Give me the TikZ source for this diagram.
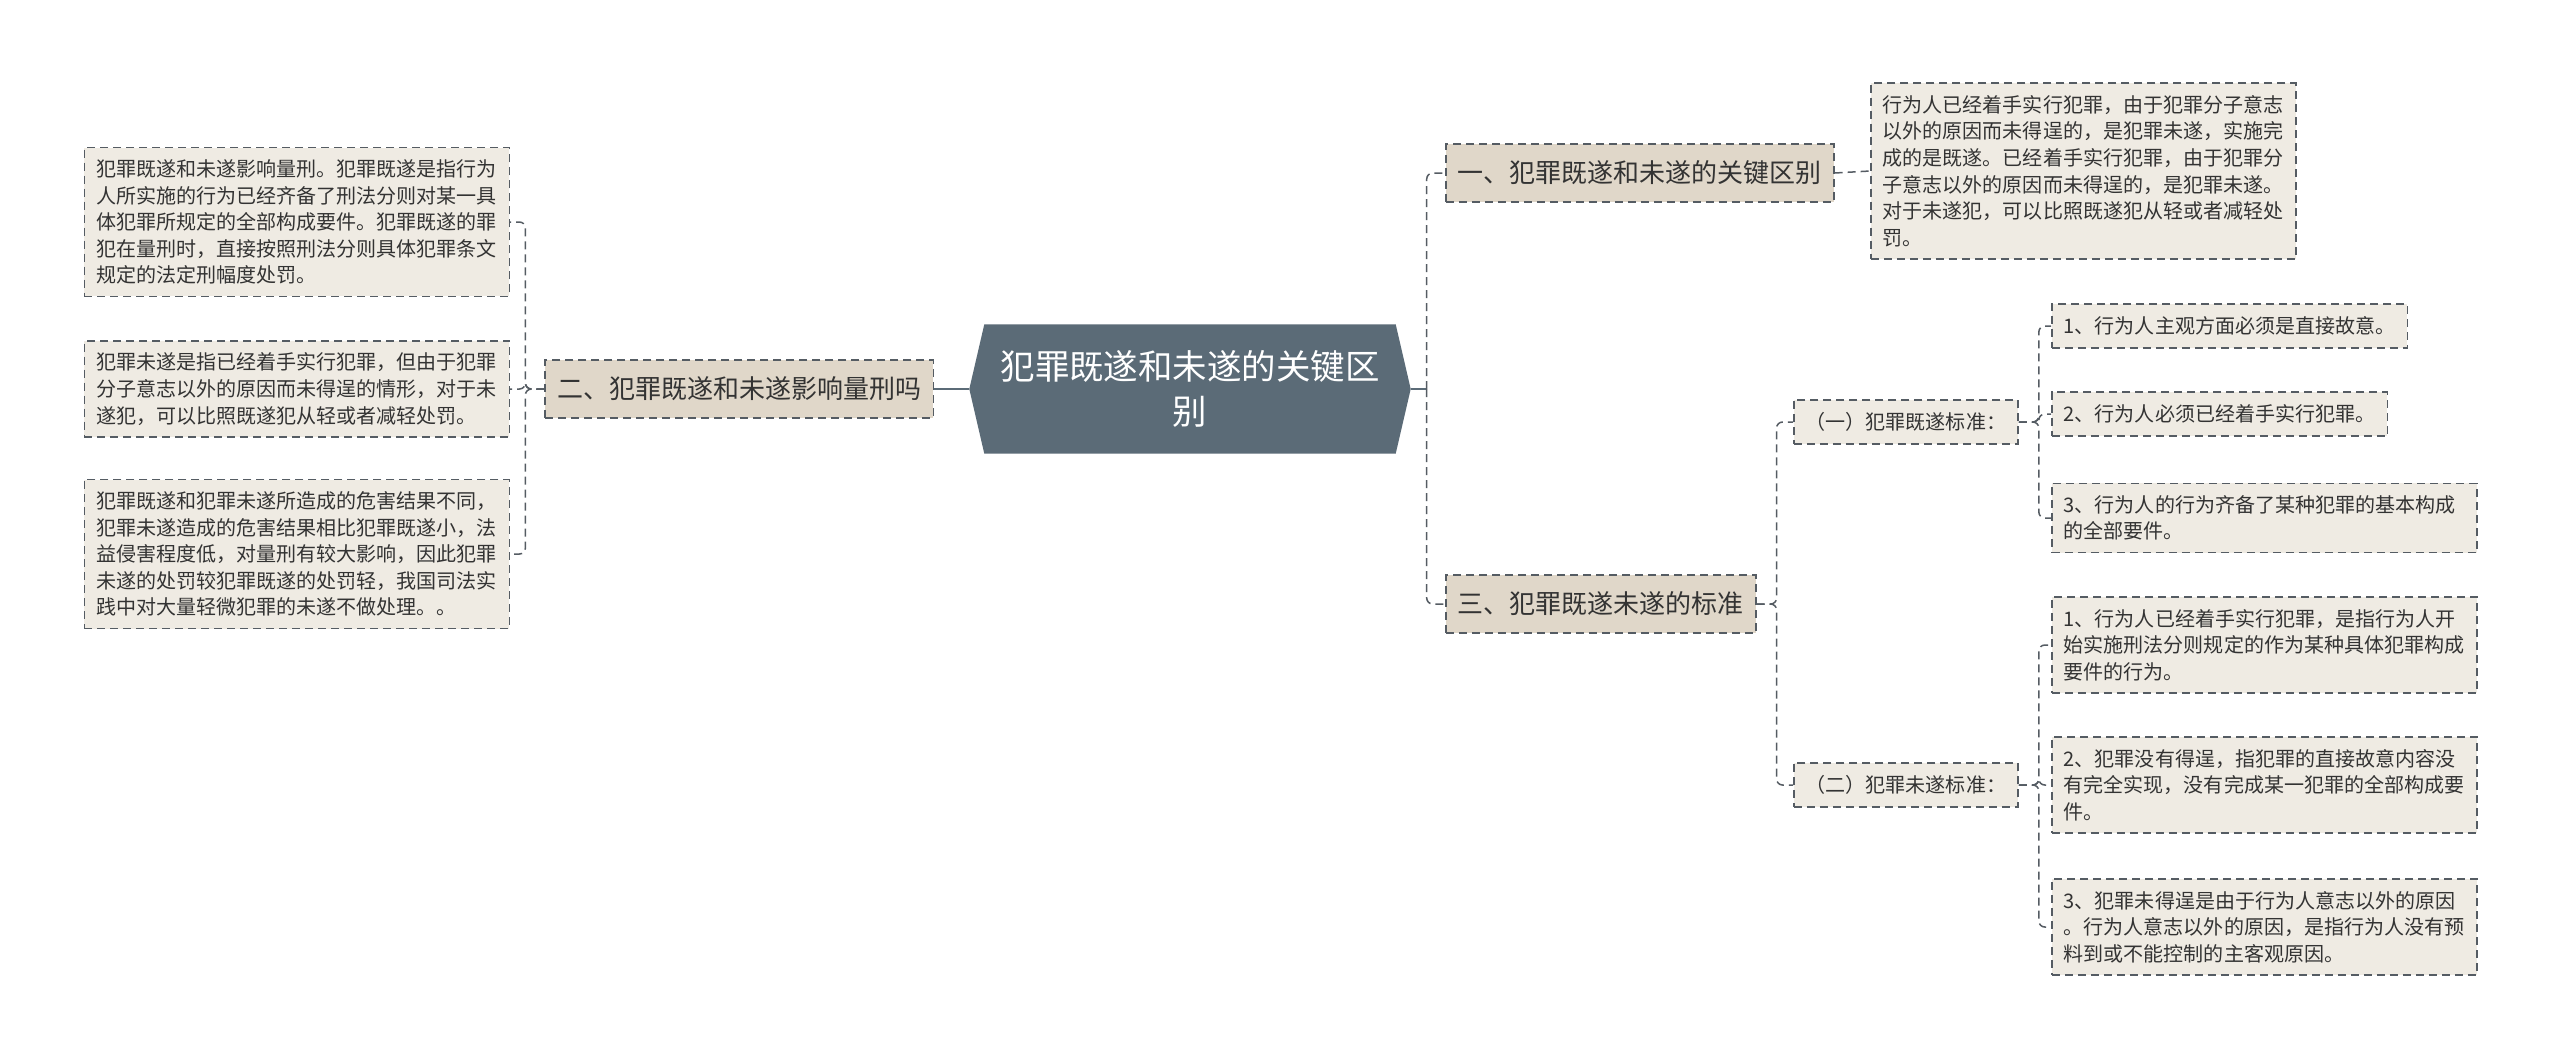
\documentclass[tikz,border=0pt]{standalone}
\usepackage{fontspec}
\setmainfont{Noto Sans CJK SC}
\usetikzlibrary{backgrounds}

\definecolor{rootfill}{HTML}{5B6B77}
\definecolor{topicfill}{HTML}{E0D7C9}
\definecolor{leaffill}{HTML}{EFEBE3}
\definecolor{linecol}{HTML}{555C63}
\definecolor{textcol}{HTML}{333333}

\tikzset{
  rootnode/.style={minimum width=41mm, minimum height=12.8mm, inner sep=0pt,
    align=center, text=white, font=\fontsize{9.8}{13}\selectfont},
  boxline/.style={draw=linecol, dash pattern=on 0.8mm off 0.5mm, line width=0.15mm},
  topic/.style={boxline, fill=topicfill, inner xsep=1.2mm, inner ysep=0pt,
    minimum height=5.8mm, text=textcol, font=\fontsize{7.4}{9.8}\selectfont},
  leaf/.style={boxline, fill=leaffill, inner xsep=1.2mm, inner ysep=1.2mm,
    minimum height=4.4mm, align=left, text=textcol, font=\fontsize{5.7}{7.57}\selectfont},
  wideleaf/.style={leaf, text width=40.1mm},
  link/.style={boxline, rounded corners=0.6mm},
  rootlink/.style={draw=rootfill, line width=0.2mm},
}

\begin{document}
\begin{tikzpicture}[x=0.1mm,y=-0.1mm]
        \useasboundingbox (0,0) rectangle (2560,1063);

        % root
        \node[rootnode] (root) at (1190,389) {犯罪既遂和未遂的关键区\\别};
        \coordinate (rootL) at ([xshift=-1.5mm]root.west);
        \coordinate (rootR) at ([xshift=1.5mm]root.east);
        \begin{pgfonlayer}{background}
          \fill[white] (0,0) rectangle (2560,1063);
          \fill[rootfill] (root.north west) -- (root.north east) -- (rootR)
            -- (root.south east) -- (root.south west) -- (rootL) -- cycle;
        \end{pgfonlayer}

        % left branch
        \node[topic, anchor=east] (n2) at (934,389) {二、犯罪既遂和未遂影响量刑吗};
        \node[wideleaf, anchor=east] (l1) at (510,222) {犯罪既遂和未遂影响量刑。犯罪既遂是指行为\\人所实施的行为已经齐备了刑法分则对某一具\\体犯罪所规定的全部构成要件。犯罪既遂的罪\\犯在量刑时，直接按照刑法分则具体犯罪条文\\规定的法定刑幅度处罚。};
        \node[wideleaf, anchor=east] (l2) at (510,389) {犯罪未遂是指已经着手实行犯罪，但由于犯罪\\分子意志以外的原因而未得逞的情形，对于未\\遂犯，可以比照既遂犯从轻或者减轻处罚。};
        \node[wideleaf, anchor=east] (l3) at (510,554) {犯罪既遂和犯罪未遂所造成的危害结果不同，\\犯罪未遂造成的危害结果相比犯罪既遂小，法\\益侵害程度低，对量刑有较大影响，因此犯罪\\未遂的处罚较犯罪既遂的处罚轻，我国司法实\\践中对大量轻微犯罪的未遂不做处理。。};

        % right branch
        \node[topic, anchor=west] (n1) at (1445,173) {一、犯罪既遂和未遂的关键区别};
        \node[topic, anchor=west] (n3) at (1445,604) {三、犯罪既遂未遂的标准};
        \node[wideleaf, anchor=west] (t1) at (1870,171) {行为人已经着手实行犯罪，由于犯罪分子意志\\以外的原因而未得逞的，是犯罪未遂，实施完\\成的是既遂。已经着手实行犯罪，由于犯罪分\\子意志以外的原因而未得逞的，是犯罪未遂。\\对于未遂犯，可以比照既遂犯从轻或者减轻处\\罚。};

        \node[leaf, anchor=west] (s1) at (1793,422) {（一）犯罪既遂标准：};
        \node[leaf, anchor=west] (s2) at (1793,785) {（二）犯罪未遂标准：};

        \node[leaf, anchor=west] (a1) at (2051,326) {1、行为人主观方面必须是直接故意。};
        \node[leaf, anchor=west] (a2) at (2051,414) {2、行为人必须已经着手实行犯罪。};
        \node[wideleaf, anchor=west] (a3) at (2051,518) {3、行为人的行为齐备了某种犯罪的基本构成\\的全部要件。};

        \node[wideleaf, anchor=west] (b1) at (2051,645) {1、行为人已经着手实行犯罪，是指行为人开\\始实施刑法分则规定的作为某种具体犯罪构成\\要件的行为。};
        \node[wideleaf, anchor=west] (b2) at (2051,785) {2、犯罪没有得逞，指犯罪的直接故意内容没\\有完全实现，没有完成某一犯罪的全部构成要\\件。};
        \node[wideleaf, anchor=west] (b3) at (2051,927) {3、犯罪未得逞是由于行为人意志以外的原因\\。行为人意志以外的原因，是指行为人没有预\\料到或不能控制的主客观原因。};

        % connectors
        \draw[rootlink] (rootL) -- (n2.east);
        \draw[rootlink] (rootR) -- ++(16,0) coordinate (rbus);
        \foreach \n in {n1,n3}
          \draw[link] (rbus) |- (\n.west);
        \foreach \n in {l1,l2,l3}
          \draw[link] (n2.west) -- ++(-19,0) |- (\n.east);
        \draw[link] (n1.east) -- (t1.west);
        \foreach \n in {s1,s2}
          \draw[link] (n3.east) -- ++(20,0) |- (\n.west);
        \foreach \n in {a1,a2,a3}
          \draw[link] (s1.east) -- ++(20,0) |- (\n.west);
        \foreach \n in {b1,b2,b3}
          \draw[link] (s2.east) -- ++(20,0) |- (\n.west);

  \end{tikzpicture}
\end{document}
